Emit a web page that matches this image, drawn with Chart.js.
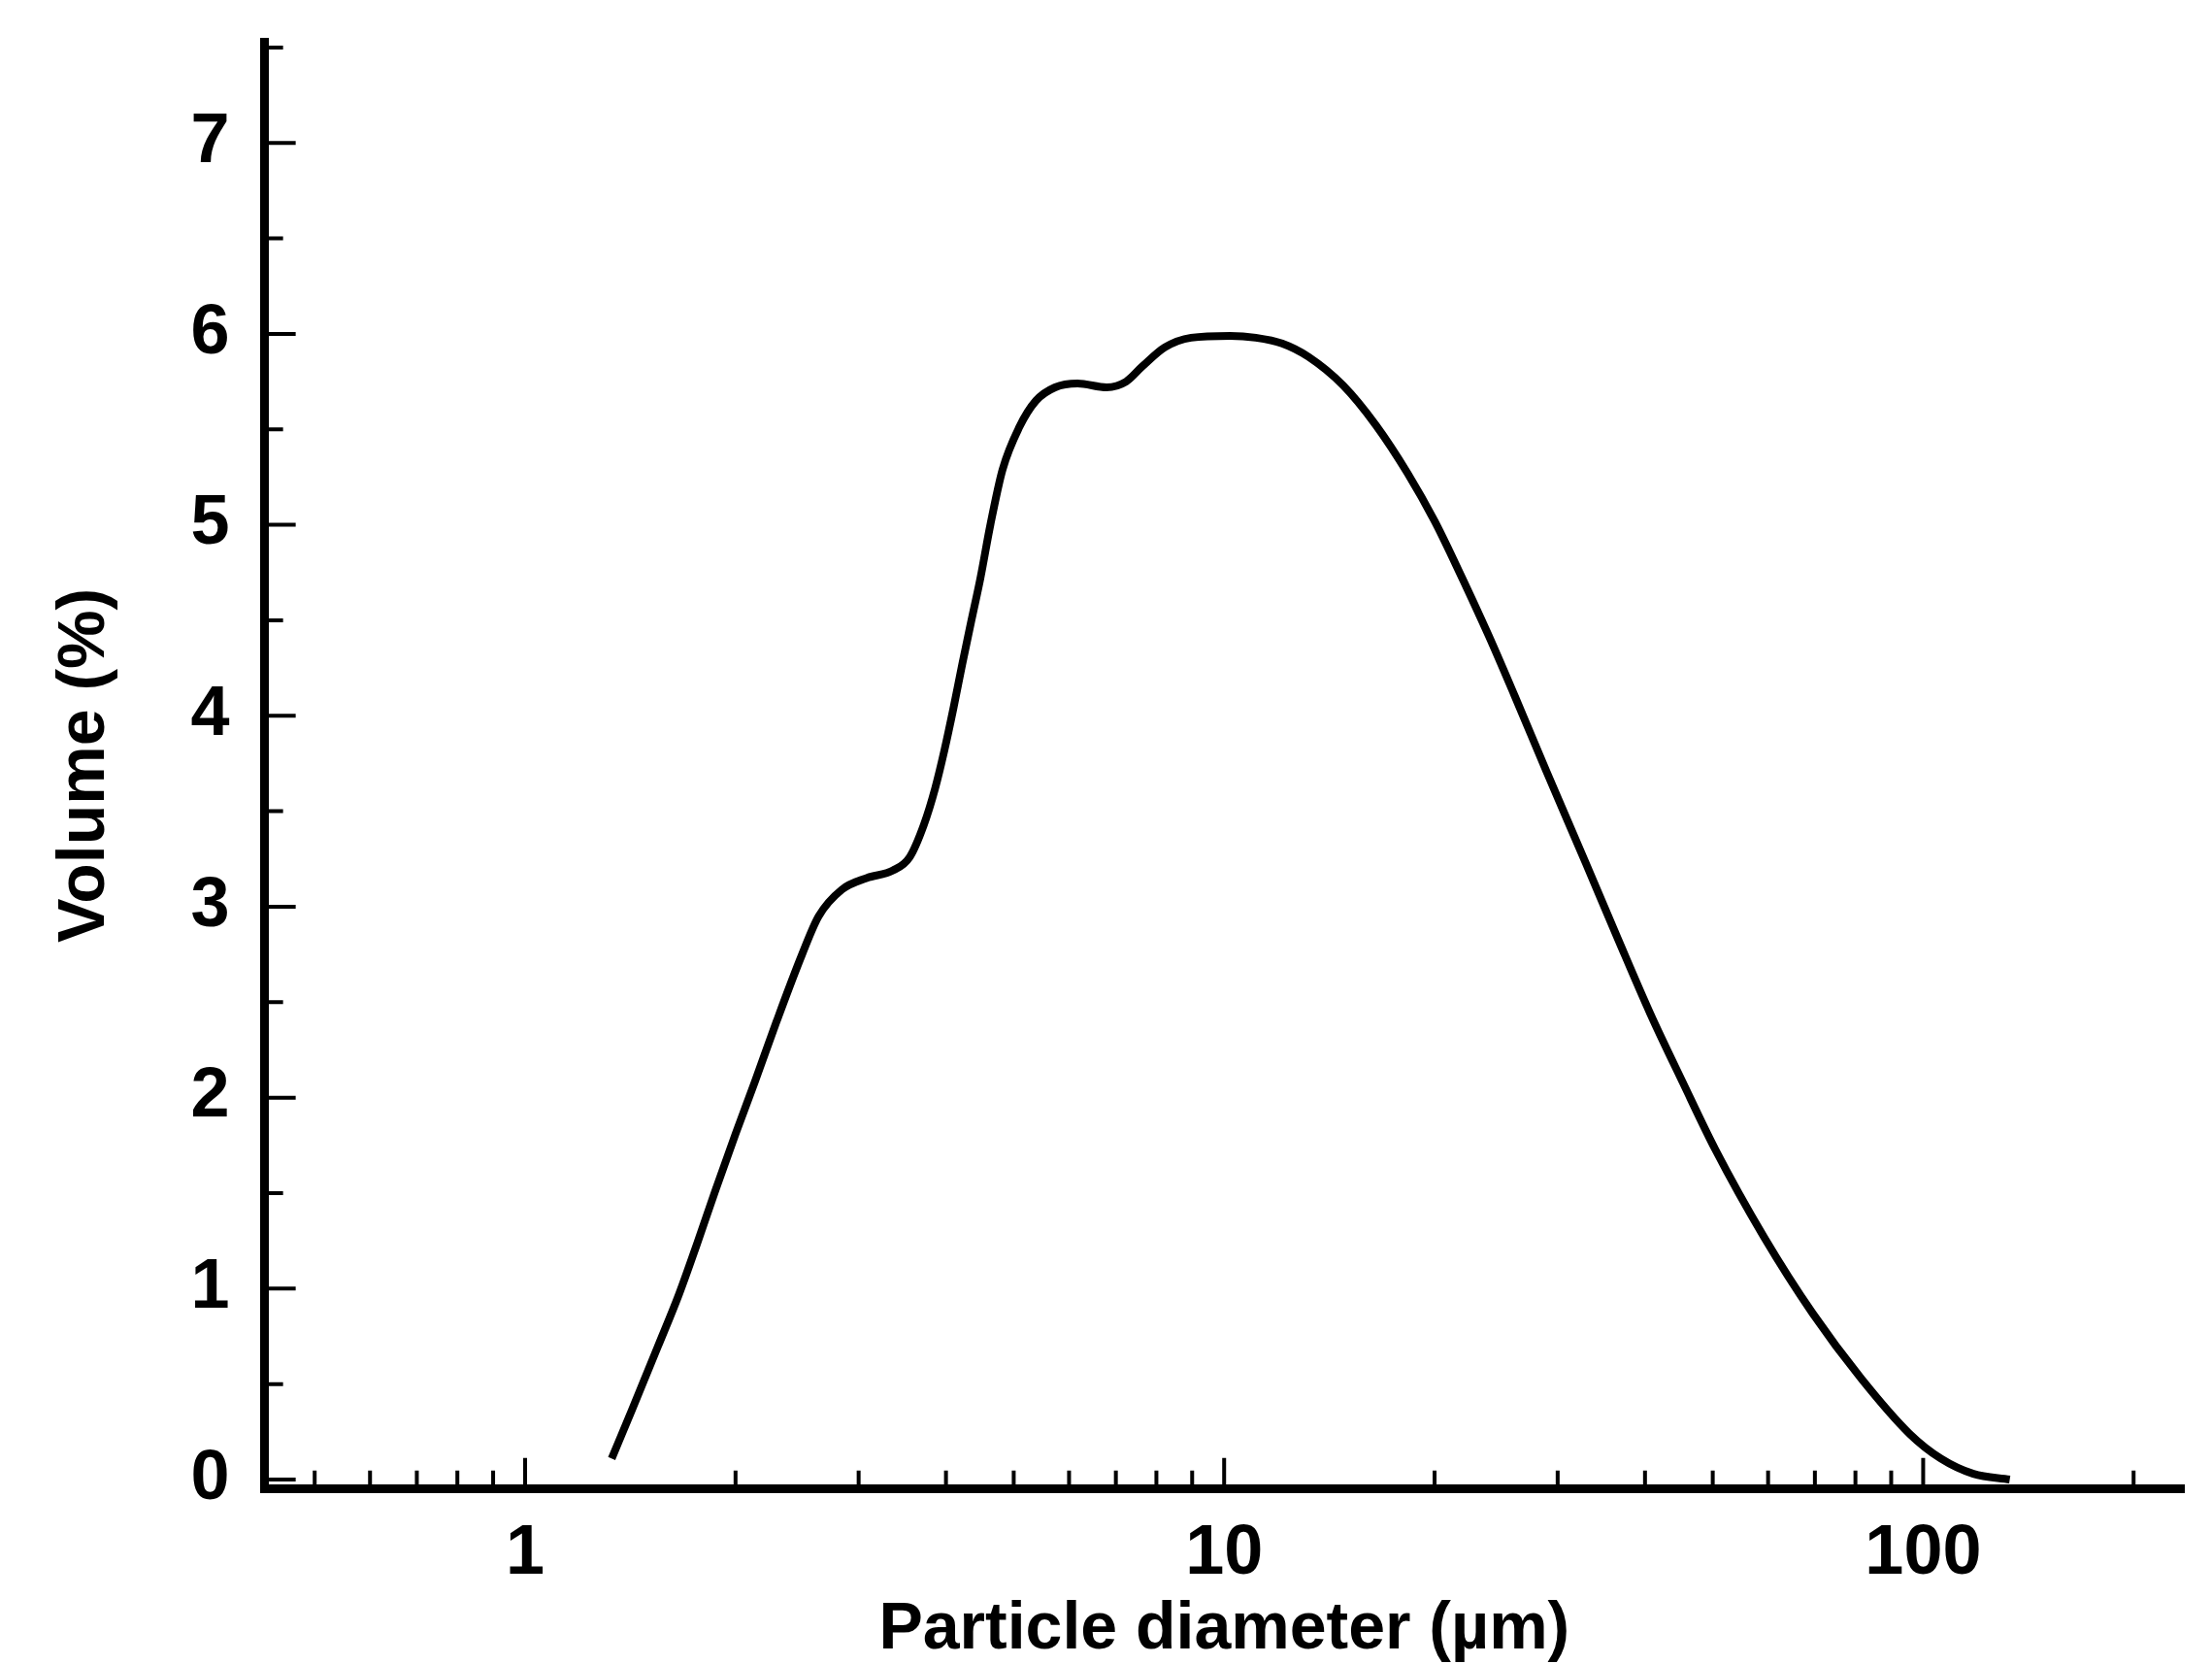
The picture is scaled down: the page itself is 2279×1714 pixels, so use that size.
<!DOCTYPE html>
<html>
<head>
<meta charset="utf-8">
<title>Particle size distribution</title>
<script src="https://cdn.jsdelivr.net/npm/chart.js@4.4.1/dist/chart.umd.min.js"></script>
<style>
  html, body { margin: 0; padding: 0; background: #fff; }
  #wrap { width: 2279px; height: 1714px; }
</style>
</head>
<body>
<div id="wrap"><canvas id="psdChart"></canvas></div>
<script>
// volume distribution

const diameters = [1.33, 1.42, 1.55, 1.66, 1.76, 1.87, 2.0, 2.13, 2.29, 2.49,
  2.63, 2.84, 3.08, 3.36, 3.55, 3.72, 3.86, 3.98, 4.10, 4.22,
  4.35, 4.48, 4.63, 4.82, 5.09, 5.38, 5.73, 6.17, 6.79, 7.24,
  7.64, 8.23, 8.97, 10.2, 11.1, 12.1, 13.2, 14.8, 16.5, 18.3,
  20.0, 21.4, 23.9, 26.0, 28.9, 32.9, 36.6, 40.7, 45.3, 50.4,
  59.2, 69.5, 81.5, 95.6, 106, 118, 133];

const volumes = [0.11, 0.36, 0.70, 0.97, 1.23, 1.51, 1.81, 2.08, 2.40, 2.75,
  2.95, 3.09, 3.15, 3.19, 3.26, 3.43, 3.62, 3.82, 4.04, 4.27,
  4.50, 4.72, 5.00, 5.29, 5.51, 5.65, 5.72, 5.74, 5.72, 5.75,
  5.83, 5.93, 5.98, 5.99, 5.98, 5.95, 5.88, 5.73, 5.52, 5.27,
  5.02, 4.80, 4.42, 4.11, 3.71, 3.23, 2.83, 2.44, 2.08, 1.73,
  1.27, 0.87, 0.53, 0.24, 0.11, 0.03, 0];

const xTicks = [0.5, 0.6, 0.7, 0.8, 0.9, 1, 2, 3, 4, 5, 6, 7, 8, 9,
  10, 20, 30, 40, 50, 60, 70, 80, 90, 100, 200];
const xLabels = [1, 10, 100];

const yTicks = [0, 0.5, 1, 1.5, 2, 2.5, 3, 3.5, 4, 4.5, 5, 5.5, 6, 6.5, 7, 7.5];
const yLabels = [0, 1, 2, 3, 4, 5, 6, 7];

Chart.defaults.font.family = '"Liberation Sans", Arial, Helvetica, sans-serif';
Chart.defaults.color = '#000';

// inward tick marks, long ones at the labelled values
const tickMarks = {
  id: 'tickMarks',
  afterDraw(chart) {
    const { ctx, chartArea, scales } = chart;
    ctx.save();
    ctx.strokeStyle = '#000';
    ctx.lineWidth = 4;
    ctx.beginPath();
    scales.x.ticks.forEach(t => {
      const px = scales.x.getPixelForValue(t.value);
      const len = t.major ? 32 : 19;
      ctx.moveTo(px, chartArea.bottom);
      ctx.lineTo(px, chartArea.bottom - len);
    });
    scales.y.ticks.forEach(t => {
      const py = scales.y.getPixelForValue(t.value);
      const len = t.major ? 32 : 19;
      ctx.moveTo(chartArea.left, py);
      ctx.lineTo(chartArea.left + len, py);
    });
    ctx.stroke();
    ctx.restore();
  }
};

const data = {
  datasets: [
    {
      label: 'Volume',
      data: diameters.map((d, i) => ({ x: d, y: volumes[i] })),
      borderColor: '#000',
      borderWidth: 8,
      pointRadius: 0,
      fill: false,
      cubicInterpolationMode: 'monotone',
    },
  ],
};

const config = {
  type: 'line',
  data: data,
  options: {
    responsive: true,
    maintainAspectRatio: false,
    animation: false,
    layout: { padding: { top: 43, right: 29, bottom: 0, left: 0 } },
    plugins: {
      legend: { display: false },
      tooltip: { enabled: false },
    },
    scales: {
      x: {
        type: 'logarithmic',
        min: 0.424,
        max: 236,
        grid: { display: false, drawTicks: false },
        border: { display: true, color: '#000', width: 9 },
        afterBuildTicks: axis => {
          axis.ticks = xTicks.map(v => ({ value: v, major: xLabels.includes(v) }));
        },
        ticks: {
          autoSkip: false,
          maxRotation: 0,
          padding: 60,
          font: { size: 72, weight: 'bold', lineHeight: 0.2 },
          callback: value => xLabels.includes(value) ? String(value) : '',
        },
        title: {
          display: true,
          text: 'Particle diameter (µm)',
          font: { size: 68, weight: 'bold', lineHeight: 0.335 },
          padding: { top: 0, bottom: 23 },
        },
      },
      y: {
        type: 'linear',
        min: -0.05,
        max: 7.53,
        grid: { display: false, drawTicks: false },
        border: { display: true, color: '#000', width: 9 },
        afterBuildTicks: axis => {
          axis.ticks = yTicks.map(v => ({ value: v, major: yLabels.includes(v) }));
        },
        ticks: {
          autoSkip: false,
          padding: 36,
          font: { size: 72, weight: 'bold', lineHeight: 0.15 },
          callback: value => yLabels.includes(value) ? String(value) : '',
        },
        title: {
          display: true,
          text: 'Volume (%)',
          font: { size: 68, weight: 'bold', lineHeight: 1.2 },
          padding: { top: 47, bottom: 32 },
        },
      },
    },
  },
  plugins: [tickMarks],
};

const ctx = document.getElementById('psdChart').getContext('2d');
const psdChart = new Chart(ctx, config);
</script>
</body>
</html>
